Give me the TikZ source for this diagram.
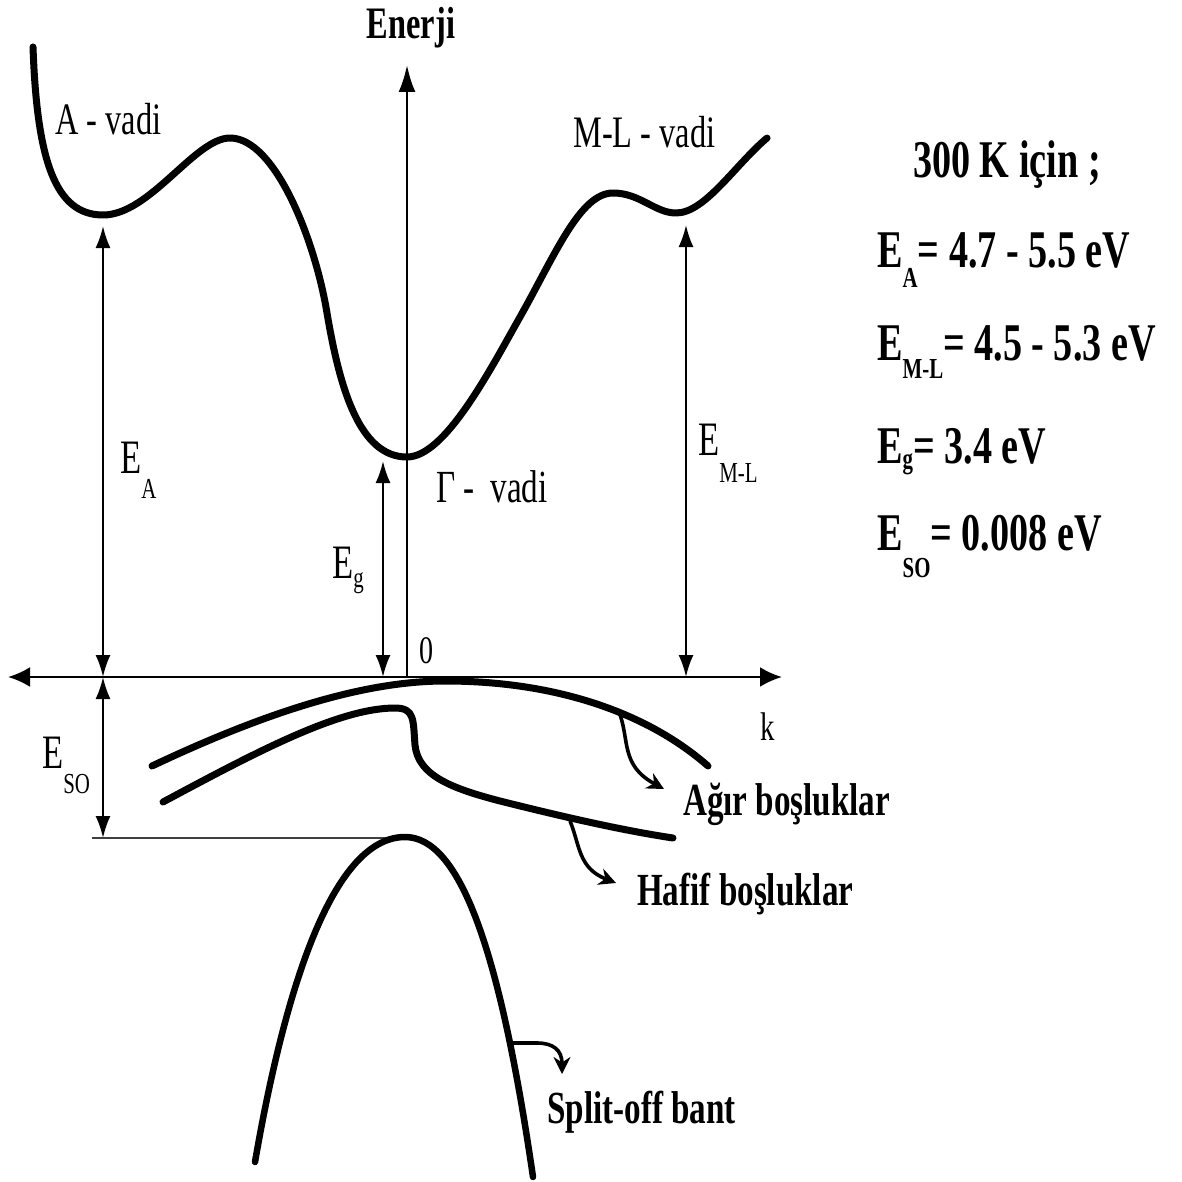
\documentclass[tikz,border=0pt]{standalone}
\usepackage{fontspec}
\setmainfont{Liberation Serif}[FakeStretch=0.72]
\usetikzlibrary{arrows.meta}
\newcommand\lsub[2]{\raisebox{-#2}{\fontsize{29}{30}\selectfont #1}}
\tikzset{
  band/.style={line width=7pt, line cap=round, line join=round},
  thinarr/.style={line width=2.2pt, {Latex[length=22pt,width=15pt]}-{Latex[length=22pt,width=15pt]}},
  axisline/.style={line width=2.6pt},
  pointer/.style={line width=3.6pt, -{Stealth[length=17pt,width=17pt]}},
  lab/.style={inner sep=0pt, anchor=base west, font=\fontsize{45}{50}\selectfont},
  blab/.style={lab, font=\fontsize{46}{50}\selectfont\bfseries},
  elab/.style={inner sep=0pt, anchor=base west, font=\fontsize{48}{50}\selectfont},
  rlab/.style={inner sep=0pt, anchor=base west, font=\fontsize{53}{56}\selectfont\bfseries},
}
\begin{document}
\begin{tikzpicture}[x=1pt, y=-1pt]
\useasboundingbox (0,0) rectangle (1182,1182);
% key coordinates
\coordinate (O) at (407,677);
\coordinate (Etop) at (407,65);
\coordinate (kL) at (8,677);
\coordinate (kR) at (782,677);
\coordinate (Aax) at (103,677);
\coordinate (Amin) at (103,226);
\coordinate (Gax) at (383,677);
\coordinate (Gmin) at (383,461);
\coordinate (Lax) at (686,677);
\coordinate (Lmin) at (686,225);
\coordinate (SOb) at (103,838);
\coordinate (SOl) at (92,838);
\coordinate (SOr) at (400,838);
% axes
\draw[axisline, -{Latex[length=27pt,width=17pt]}] (O) -- (Etop);
\draw[axisline, {Latex[length=22pt,width=20pt]}-{Latex[length=22pt,width=20pt]}] (kL) -- (kR);
% energy arrows
\draw[thinarr] (Aax) -- (Amin);
\draw[thinarr] (Gax) -- (Gmin);
\draw[thinarr] (Lax) -- (Lmin);
\draw[thinarr] (Aax) -- (SOb);
\draw[line width=2.4pt, black!75] (SOl) -- (SOr);
% conduction band
\draw[band] (33,47) .. controls (37,160) and (55,215) .. (103,215)
  .. controls (150,215) and (195,138) .. (230,138)
  .. controls (275,138) and (315,240) .. (327,313)
  .. controls (340,390) and (360,457) .. (407,457)
  .. controls (445,457) and (490,370) .. (520,317)
  .. controls (555,255) and (580,193) .. (613,193)
  .. controls (640,193) and (655,213) .. (676,213)
  .. controls (705,213) and (735,165) .. (767,138);
% heavy holes
\draw[band] (152,766) .. controls (260,715) and (360,681) .. (445,681)
  .. controls (560,681) and (650,715) .. (708,766);
% light holes
\draw[band] (163,802) .. controls (260,750) and (340,708) .. (395,708)
  .. controls (415,708) and (413,720) .. (415,745)
  .. controls (418,775) and (450,788) .. (500,801)
  .. controls (560,816) and (620,830) .. (673,838);
% split-off band
\draw[band, line width=6.5pt] (255,1162) .. controls (290,960) and (340,837) .. (405,837)
  .. controls (460,837) and (500,950) .. (533,1177);
% pointers
\coordinate (hh) at (619,712);
\coordinate (hhE) at (664,789);
\draw[pointer] (hh) .. controls (630,740) and (620,765) .. (hhE);
\coordinate (lh) at (570,821);
\coordinate (lhE) at (616,883);
\draw[pointer] (lh) .. controls (580,845) and (578,868) .. (lhE);
\coordinate (so) at (512,1043);
\coordinate (soE) at (562,1074);
\draw[pointer] (so) -- (537,1043) .. controls (553,1043) and (562,1050) .. (soE);
% labels
\node[inner sep=0pt, font=\fontsize{45}{50}\selectfont\bfseries] (en) at (411,28) {Enerji};
\node[lab] (av) at (55,135) {A - vadi};
\node[lab] (mlv) at (573,148) {M-L - vadi};
\node[lab, font=\fontsize{46}{50}\selectfont] (gv) at (436,502) {Γ -\, vadi};
\node[elab] (ea) at (120,473) {E\lsub{A}{25pt}};
\node[elab] (eg) at (332,578) {E\lsub{g}{9pt}};
\node[elab] (eml) at (698,455) {E\lsub{M-L}{27pt}};
\node[elab] (eso) at (42,768) {E\lsub{SO}{25pt}};
\node[lab, font=\fontsize{39}{40}\selectfont] (zero) at (419,663) {0};
\node[lab, font=\fontsize{40}{40}\selectfont] (k) at (760,740) {k};
\node[blab] (agir) at (683,815) {Ağır boşluklar};
\node[blab] (hafif) at (637,905) {Hafif boşluklar};
\node[blab] (split) at (547,1123) {Split-off bant};
% right column
\node[inner sep=0pt, anchor=base, font=\fontsize{53}{56}\selectfont\bfseries] (t300) at (1007,178) {300 K için ;};
\node[rlab] (r1) at (877,267) {E\lsub{A}{20pt}= 4.7 - 5.5 eV};
\node[rlab] (r2) at (877,360) {E\lsub{M-L}{18pt}= 4.5 - 5.3 eV};
\node[rlab] (r3) at (877,463) {E\lsub{g}{5pt}= 3.4 eV};
\node[rlab] (r4) at (877,550) {E\lsub{SO}{27pt}= 0.008 eV};
\end{tikzpicture}
\end{document}
